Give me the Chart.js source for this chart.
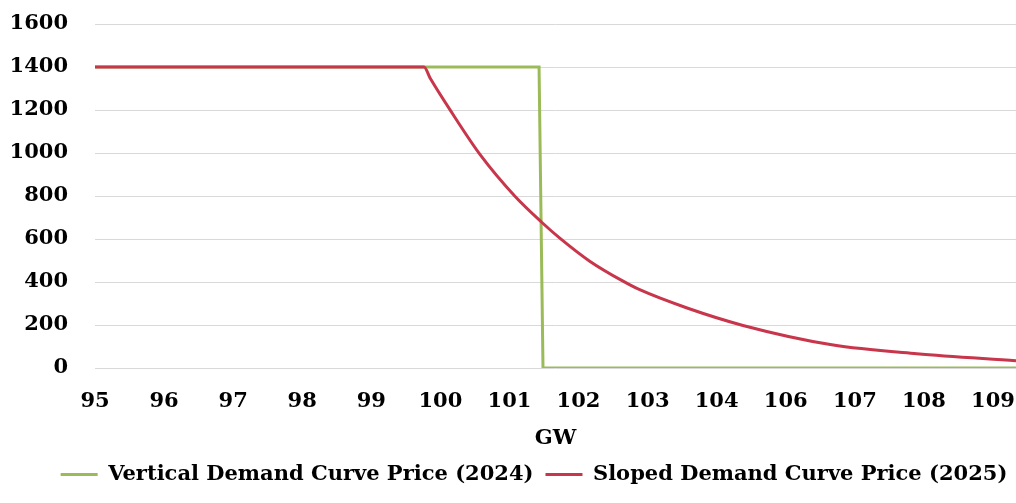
<!DOCTYPE html>
<html>
<head>
<meta charset="utf-8">
<script src="https://cdn.jsdelivr.net/npm/chart.js@4/dist/chart.umd.min.js"></script>
<style>
html, body { margin: 0; padding: 0; background: #fff; }
</style>
</head>
<body>
<canvas id="chart" width="1016" height="503"></canvas>
<script>
// x tick positions (GW) and the labels shown under them
const tickValues = [95, 96.05, 97.1, 98.15, 99.2, 100.25, 101.3, 102.35, 103.4, 104.45, 105.5, 106.55, 107.6, 108.65];
const tickLabels = ['95', '96', '97', '98', '99', '100', '101', '102', '103', '104', '106', '107', '108', '109'];

// Vertical Demand Curve Price (2024)
const verticalGW = [95, 101.75, 101.81, 109];
const verticalPrice = [1400, 1400, 0, 0];

// Sloped Demand Curve Price (2025)
const slopedGW = [95, 100.0, 100.1, 100.43, 100.86, 101.38, 101.79, 102.07, 102.52, 103.02, 103.28, 104.0, 104.85, 106.2, 107.49, 109];
const slopedPrice = [1400, 1400, 1345, 1185, 990, 800, 678, 603, 497, 405, 364, 279, 198, 108, 66, 34];

const toPoints = (xs, ys) => xs.map((x, i) => ({ x: x, y: ys[i] }));

const green = '#9bbb59';
const red = '#c8364b';
const font = { family: "'DejaVu Serif', serif", weight: 'bold', size: 21 };

// legend in the original sits a bit right of the canvas centre
const legendShift = {
    id: 'legendShift',
    afterLayout: chart => {
        chart.legend.left += 26;
        chart.legend.right += 26;
    }
};

new Chart(document.getElementById('chart'), {
    type: 'line',
    data: {
        datasets: [{
            label: 'Vertical Demand Curve Price (2024)',
            data: toPoints(verticalGW, verticalPrice),
            borderColor: green,
            backgroundColor: green,
            borderWidth: 3,
            pointRadius: 0,
            tension: 0,
            order: 1
        }, {
            label: 'Sloped Demand Curve Price (2025)',
            data: toPoints(slopedGW, slopedPrice),
            borderColor: red,
            backgroundColor: red,
            borderWidth: 3,
            pointRadius: 0,
            cubicInterpolationMode: 'monotone',
            order: 0
        }]
    },
    plugins: [legendShift],
    options: {
        responsive: false,
        animation: false,
        devicePixelRatio: 1,
        layout: { padding: { top: 24, right: 0, left: 0, bottom: 8 } },
        scales: {
            x: {
                type: 'linear',
                min: 95,
                max: 109,
                afterBuildTicks: s => { s.ticks = tickValues.map(v => ({ value: v })); },
                afterFit: s => { s.height = 84; s.paddingLeft = 0; s.paddingRight = 0; },
                ticks: {
                    color: '#000',
                    font: font,
                    padding: 13,
                    maxRotation: 0,
                    autoSkip: false,
                    callback: (v, i) => tickLabels[i]
                },
                grid: { display: false },
                border: { display: false },
                title: { display: true, text: 'GW', color: '#000', font: font, padding: { top: 0, bottom: 1 } }
            },
            y: {
                min: 0,
                max: 1600,
                afterFit: s => { s.width = 95; s.paddingTop = 0; s.paddingBottom = 0; },
                ticks: { stepSize: 200, color: '#000', font: font, padding: 27, callback: v => String(v) },
                grid: { color: '#d9d9d9', lineWidth: 1, drawTicks: false },
                border: { display: false }
            }
        },
        plugins: {
            tooltip: { enabled: false },
            legend: {
                position: 'bottom',
                labels: {
                    color: '#000',
                    font: { family: "'DejaVu Serif', serif", weight: 'bold', size: 21 },
                    boxWidth: 37,
                    boxHeight: 3,
                    padding: 12,
                    sort: (a, b) => a.datasetIndex - b.datasetIndex,
                    generateLabels: chart => chart.data.datasets.map((d, i) => ({
                        text: d.label,
                        fillStyle: d.borderColor,
                        strokeStyle: d.borderColor,
                        lineWidth: 0,
                        fontColor: '#000',
                        hidden: false,
                        datasetIndex: i
                    }))
                }
            }
        }
    }
});
</script>
</body>
</html>
